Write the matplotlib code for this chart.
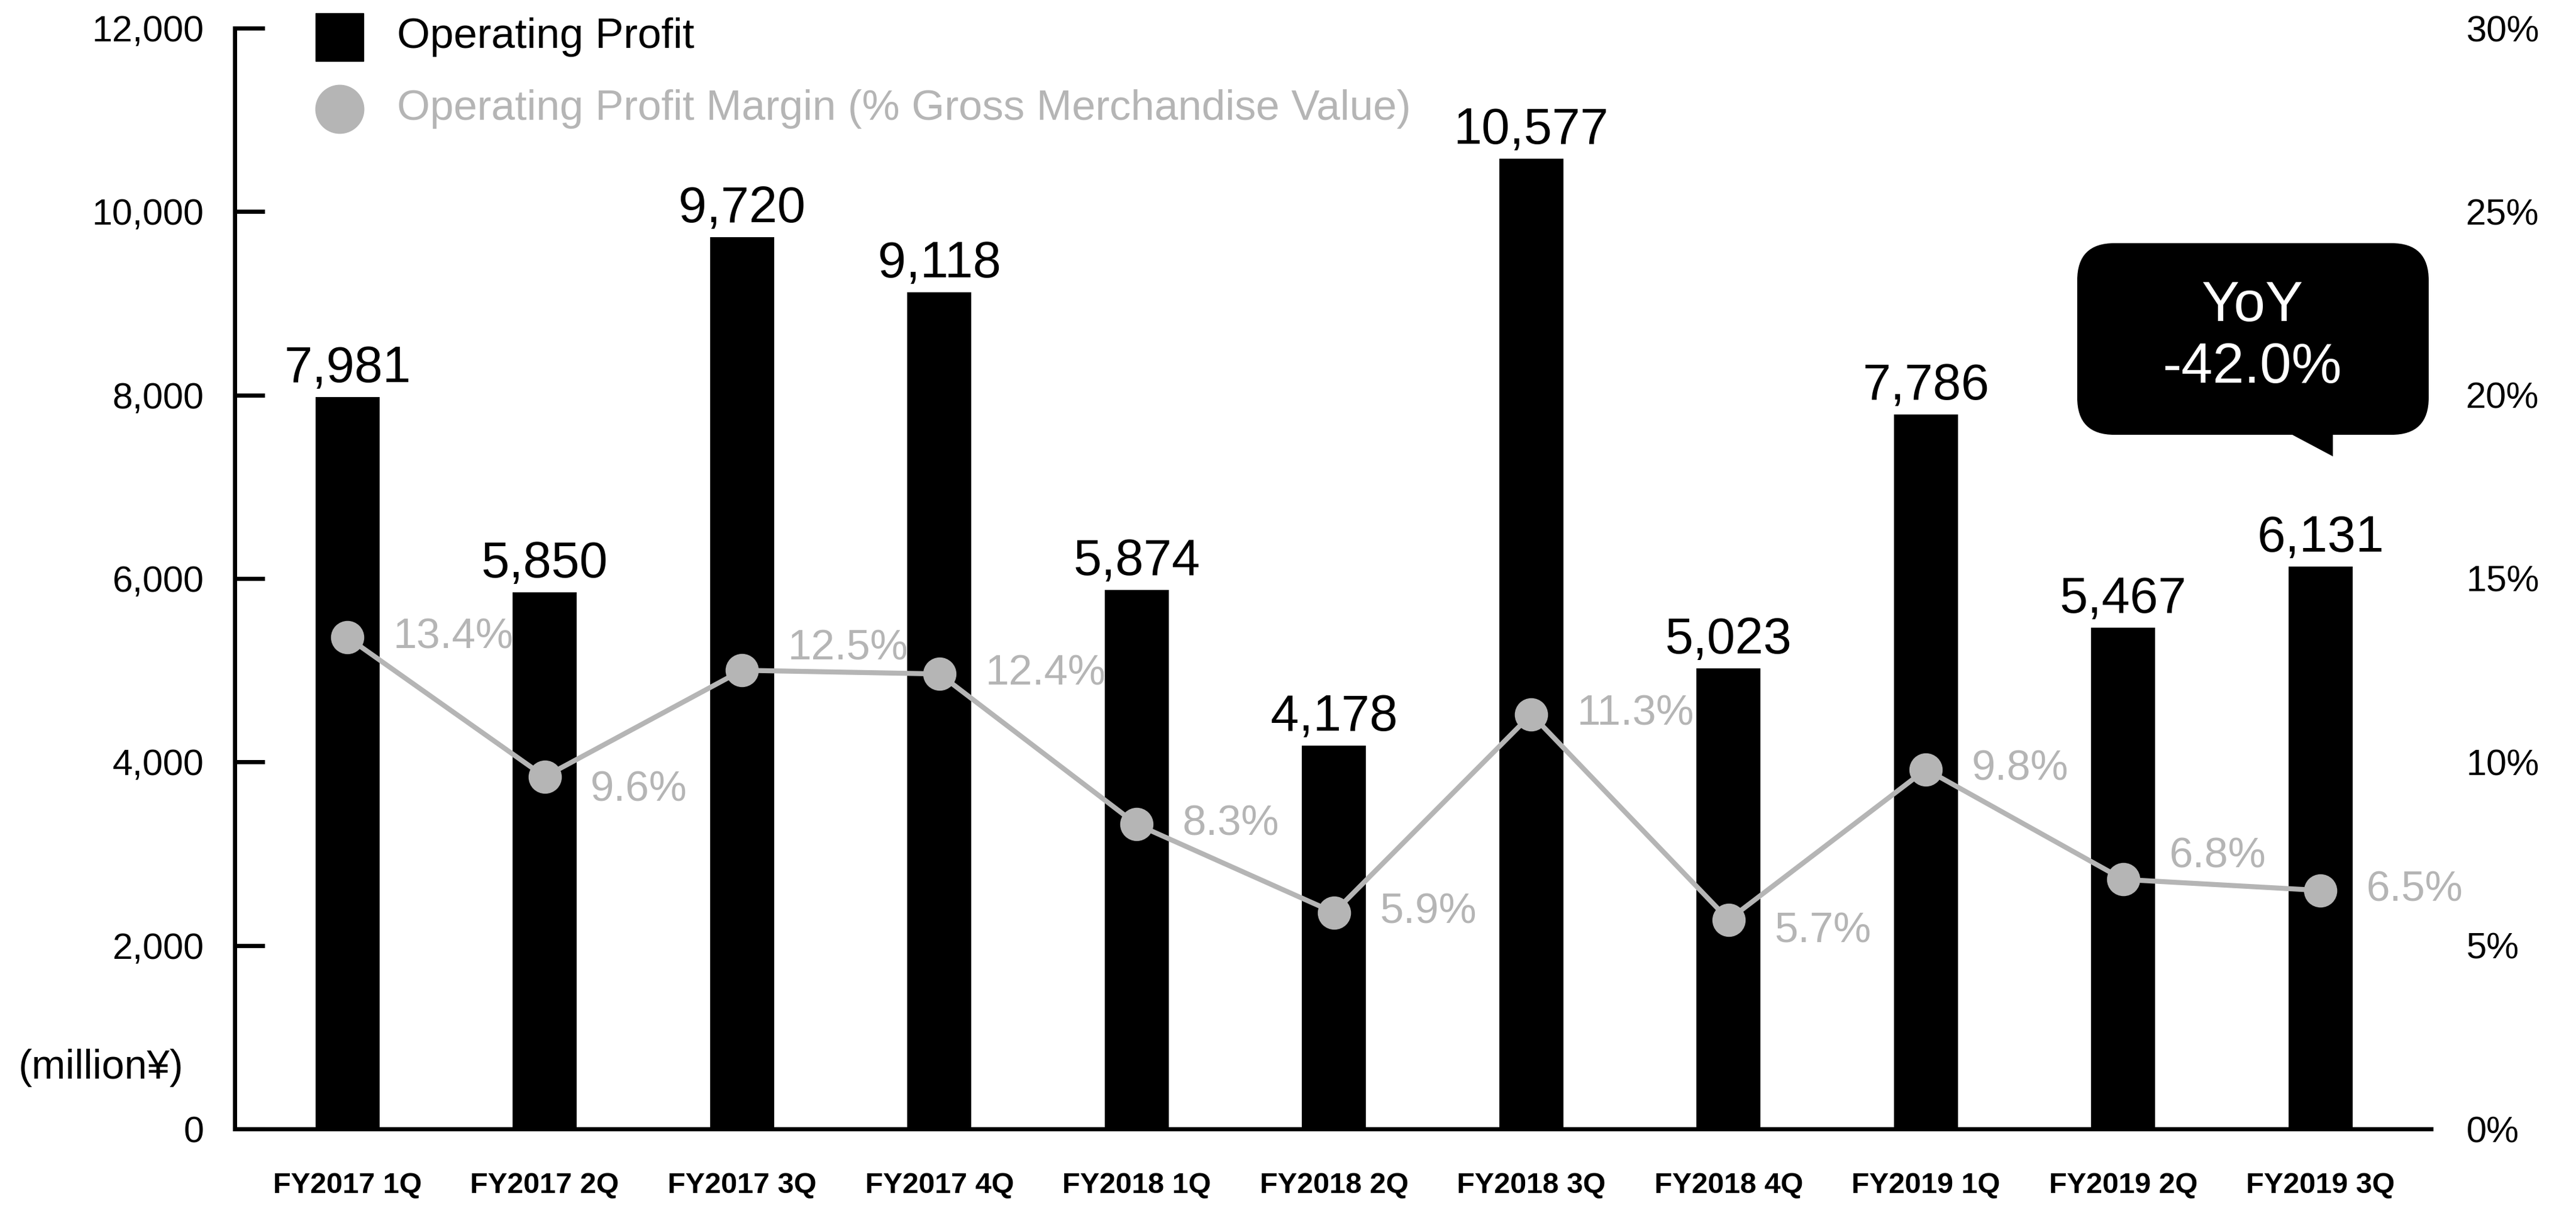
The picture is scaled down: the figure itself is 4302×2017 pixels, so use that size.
import matplotlib
matplotlib.use("Agg")
import matplotlib.pyplot as plt
from matplotlib.patches import FancyBboxPatch, Polygon
from matplotlib.transforms import Affine2D
from matplotlib.ticker import FuncFormatter

plt.rcParams['font.family'] = ['Liberation Sans', 'DejaVu Sans']

quarters = ['FY2017 1Q', 'FY2017 2Q', 'FY2017 3Q', 'FY2017 4Q',
            'FY2018 1Q', 'FY2018 2Q', 'FY2018 3Q', 'FY2018 4Q',
            'FY2019 1Q', 'FY2019 2Q', 'FY2019 3Q']
op_profit = [7981, 5850, 9720, 9118, 5874, 4178, 10577, 5023, 7786, 5467, 6131]
op_margin = [13.4, 9.6, 12.5, 12.4, 8.3, 5.9, 11.3, 5.7, 9.8, 6.8, 6.5]
yoy_text = 'YoY\n-42.0%'

W, H = 4302, 2017
GRAY = '#b5b5b5'

# vertical nudge (points) for a few margin labels so they clear the line
margin_label_dy = {1: -16, 2: 26, 7: -14, 9: 27}

fig = plt.figure(figsize=(W / 100, H / 100), dpi=100)
# pixel coords, origin top-left
px = Affine2D().scale(1 / W, -1 / H).translate(0, 1) + fig.transFigure

ax = fig.add_axes([392 / W, 132 / H, (4060 - 392) / W, (1885 - 47) / H])
x = list(range(len(quarters)))

ax.bar(x, op_profit, width=0.325, color='black', zorder=2)
for i, v in enumerate(op_profit):
    ax.annotate(f'{v:,}', (i, v), xytext=(0, 18), textcoords='offset points',
                ha='center', va='baseline', fontsize=61, color='black')

ax.set_xlim(-0.571, 10.56)
ax.set_ylim(0, 12000)
ax.set_yticks(range(0, 12001, 2000))
ax.yaxis.set_major_formatter(FuncFormatter(lambda v, p: f'{int(v):,}'))
ax.set_xticks(x)
ax.set_xticklabels(quarters, fontsize=35, fontweight='bold')
ax.tick_params(axis='x', length=0, pad=52)
ax.tick_params(axis='y', direction='in', length=36, width=5, pad=37, labelsize=44)
for t in ax.yaxis.get_major_ticks()[:-1]:
    t.tick1line.set_visible(False)
for s in ['top', 'right']:
    ax.spines[s].set_visible(False)
for s in ['left', 'bottom']:
    ax.spines[s].set_linewidth(5)

# margin line on the right axis
ax2 = ax.twinx()
ax2.plot(x, op_margin, color=GRAY, lw=6, marker='o', markersize=39, zorder=3)
for i, p in enumerate(op_margin):
    ax2.annotate(f'{p}%', (i, p), xytext=(55, margin_label_dy.get(i, 0)),
                 textcoords='offset points', ha='left', va='center',
                 fontsize=51, color=GRAY, zorder=4)
ax2.set_ylim(0, 30)
ax2.set_yticks(range(0, 31, 5))
ax2.yaxis.set_major_formatter(FuncFormatter(lambda v, p: f'{int(v)}%'))
ax2.tick_params(axis='y', length=0, pad=42, labelsize=44)
for s in ax2.spines.values():
    s.set_visible(False)

fig.text(169, 1783, '(million¥)', transform=px, ha='center', va='center', fontsize=49)

# legend
ax.plot([567], [62], marker='s', markersize=58, color='black', transform=px, clip_on=False)
ax.plot([567], [182], marker='o', markersize=58, color=GRAY, transform=px, clip_on=False)
fig.text(663, 62, 'Operating Profit', transform=px, va='center', fontsize=51, color='black')
fig.text(663, 182, 'Operating Profit Margin (% Gross Merchandise Value)', transform=px,
         va='center', fontsize=51, color=GRAY)

# YoY speech bubble
bubble = FancyBboxPatch((3469, 406), 587, 320, boxstyle='round,pad=0,rounding_size=62',
                        transform=px, facecolor='black', edgecolor='none', zorder=10)
fig.patches.append(bubble)
tail = Polygon([(3817, 720), (3896, 720), (3896, 762)], closed=True, transform=px,
               facecolor='black', edgecolor='none', zorder=10)
fig.patches.append(tail)
fig.text(3762, 563, yoy_text, transform=px, ha='center', va='center', fontsize=68,
         color='white', linespacing=1.2, zorder=11)

fig.savefig('out.png', dpi=100, facecolor='white')
